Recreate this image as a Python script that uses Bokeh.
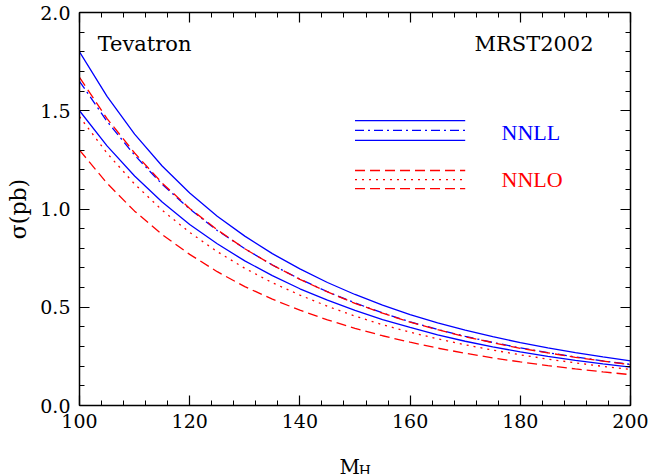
from bokeh.plotting import figure
from bokeh.layouts import column
from bokeh.models import (Range1d, LinearAxis, FixedTicker, PrintfTickFormatter,
                          CustomJSTickFormatter, Label)
from bokeh.core.properties import value
from bokeh.embed import file_html
from bokeh.resources import INLINE

# ---------------- data ----------------
mh = [100, 105, 110, 115, 120, 125, 130, 135, 140, 145, 150,
      155, 160, 165, 170, 175, 180, 185, 190, 195, 200]

nnll_upper = [1.800, 1.573, 1.381, 1.219, 1.081, 0.963, 0.862, 0.773, 0.695, 0.626, 0.565,
              0.511, 0.463, 0.421, 0.384, 0.350, 0.320, 0.293, 0.269, 0.247, 0.227]
nnll_central = [1.650, 1.446, 1.274, 1.126, 1.000, 0.891, 0.798, 0.715, 0.643, 0.579, 0.522,
                0.471, 0.426, 0.387, 0.352, 0.321, 0.293, 0.269, 0.247, 0.227, 0.209]
nnll_lower = [1.500, 1.321, 1.168, 1.036, 0.921, 0.823, 0.736, 0.661, 0.594, 0.536, 0.484,
              0.437, 0.397, 0.360, 0.327, 0.298, 0.273, 0.250, 0.230, 0.212, 0.195]

nnlo_upper = [1.670, 1.460, 1.285, 1.132, 1.003, 0.894, 0.798, 0.715, 0.642, 0.578, 0.520,
              0.470, 0.424, 0.386, 0.350, 0.320, 0.291, 0.268, 0.245, 0.226, 0.207]
nnlo_central = [1.470, 1.284, 1.127, 0.994, 0.881, 0.783, 0.698, 0.625, 0.562, 0.505, 0.455,
                0.411, 0.373, 0.339, 0.309, 0.282, 0.258, 0.236, 0.217, 0.199, 0.184]
nnlo_lower = [1.300, 1.131, 0.989, 0.870, 0.769, 0.681, 0.605, 0.541, 0.485, 0.436, 0.393,
              0.355, 0.322, 0.292, 0.266, 0.242, 0.222, 0.203, 0.186, 0.171, 0.157]

# legend sample lines
legend_x = [150, 170]
legend_nnll_y = [1.450, 1.400, 1.349]
legend_nnlo_y = [1.196, 1.150, 1.104]

x_ticks = [100, 120, 140, 160, 180, 200]
x_minor = [v for v in range(100, 201, 4)]
y_ticks = [0.0, 0.5, 1.0, 1.5, 2.0]
y_minor = [i / 10 for i in range(0, 21)]

BLUE = "#0000ff"
RED = "#ff0000"
SERIF = "DejaVu Serif"

p = figure(width=650, height=440, title=None,
           x_range=Range1d(100, 200), y_range=Range1d(0, 2),
           output_backend="svg", toolbar_location=None,
           x_axis_location=None, y_axis_location=None,
           min_border_left=79, min_border_right=20,
           min_border_top=12, min_border_bottom=35)
p.xgrid.visible = False
p.ygrid.visible = False
p.outline_line_color = None
p.background_fill_color = "white"
p.border_fill_color = "white"


def style_axis(ax, labels=True):
    ax.axis_line_color = "black"
    ax.axis_line_width = 1.5
    ax.major_tick_in = 10
    ax.major_tick_out = 0
    ax.minor_tick_in = 5
    ax.minor_tick_out = 0
    ax.major_tick_line_color = "black"
    ax.minor_tick_line_color = "black"
    ax.major_tick_line_width = 1.2
    ax.minor_tick_line_width = 1.0
    if labels:
        ax.major_label_text_font = SERIF
        ax.major_label_text_font_size = "19px"
        ax.major_label_text_color = "black"
    else:
        ax.formatter = CustomJSTickFormatter(code="return ''")
        ax.major_label_text_font_size = "1px"
        ax.major_label_standoff = 0


xb = LinearAxis(ticker=FixedTicker(ticks=x_ticks, minor_ticks=x_minor))
style_axis(xb)
xb.major_label_standoff = 8
p.add_layout(xb, "below")

xt = LinearAxis(ticker=FixedTicker(ticks=x_ticks, minor_ticks=x_minor))
style_axis(xt, labels=False)
p.add_layout(xt, "above")

yl = LinearAxis(ticker=FixedTicker(ticks=y_ticks, minor_ticks=y_minor),
                formatter=PrintfTickFormatter(format="%.1f"))
style_axis(yl)
yl.major_label_standoff = 9
yl.axis_label = "σ(pb)"
yl.axis_label_text_font = SERIF
yl.axis_label_text_font_size = "22px"
yl.axis_label_text_font_style = "normal"
yl.axis_label_text_color = "black"
yl.axis_label_standoff = 6
p.add_layout(yl, "left")

yr = LinearAxis(ticker=FixedTicker(ticks=y_ticks, minor_ticks=y_minor))
style_axis(yr, labels=False)
p.add_layout(yr, "right")

LW = 1.3
DASHDOT = "9 4 2 4"
DASHED = "10 5"
DOTTED = "2 5"

# curves
p.line(mh, nnll_upper, line_color=BLUE, line_width=LW)
p.line(mh, nnll_lower, line_color=BLUE, line_width=LW)
p.line(mh, nnll_central, line_color=BLUE, line_width=LW, line_dash=DASHDOT)
p.line(mh, nnlo_upper, line_color=RED, line_width=LW, line_dash=DASHED)
p.line(mh, nnlo_central, line_color=RED, line_width=LW, line_dash=DOTTED)
p.line(mh, nnlo_lower, line_color=RED, line_width=LW, line_dash=DASHED)

# legend samples
p.line(legend_x, [legend_nnll_y[0]] * 2, line_color=BLUE, line_width=LW)
p.line(legend_x, [legend_nnll_y[1]] * 2, line_color=BLUE, line_width=LW, line_dash=DASHDOT)
p.line(legend_x, [legend_nnll_y[2]] * 2, line_color=BLUE, line_width=LW)
p.line(legend_x, [legend_nnlo_y[0]] * 2, line_color=RED, line_width=LW, line_dash=DASHED)
p.line(legend_x, [legend_nnlo_y[1]] * 2, line_color=RED, line_width=LW, line_dash=DOTTED)
p.line(legend_x, [legend_nnlo_y[2]] * 2, line_color=RED, line_width=LW, line_dash=DASHED)

p.add_layout(Label(x=176.6, y=1.389, text="NNLL", text_font="Liberation Serif",
                   text_font_size="22px", text_color=BLUE, text_baseline="middle"))
p.add_layout(Label(x=176.6, y=1.150, text="NNLO", text_font="Liberation Serif",
                   text_font_size="22px", text_color=RED, text_baseline="middle"))

# annotations
p.add_layout(Label(x=103.3, y=1.842, text="Tevatron", text_font=SERIF,
                   text_font_size="21px", text_color="black", text_baseline="middle"))
p.add_layout(Label(x=193.3, y=1.842, text="MRST2002", text_font=SERIF,
                   text_font_size="21px", text_color="black", text_baseline="middle",
                   text_align="right"))

# ---- strip below the chart holding the x-axis title M_H ----
q = figure(width=650, height=34, title=None,
           x_range=Range1d(100, 200), y_range=Range1d(0, 34),
           output_backend="svg", toolbar_location=None,
           x_axis_location=None, y_axis_location=None,
           min_border_left=79, min_border_right=20,
           min_border_top=0, min_border_bottom=0)
q.xgrid.visible = False
q.ygrid.visible = False
q.outline_line_color = None
q.background_fill_color = "white"
q.border_fill_color = "white"
q.text(x=[147.2], y=[8], text=["M"], text_font=value(SERIF),
       text_font_size=value("20px"), text_color="black",
       text_baseline=value("alphabetic"))
q.text(x=[150.7], y=[4], text=["H"], text_font=value(SERIF),
       text_font_size=value("14px"), text_color="black",
       text_baseline=value("alphabetic"))

layout = column(p, q, spacing=0)
open("out.html", "w").write(file_html(layout, INLINE))
